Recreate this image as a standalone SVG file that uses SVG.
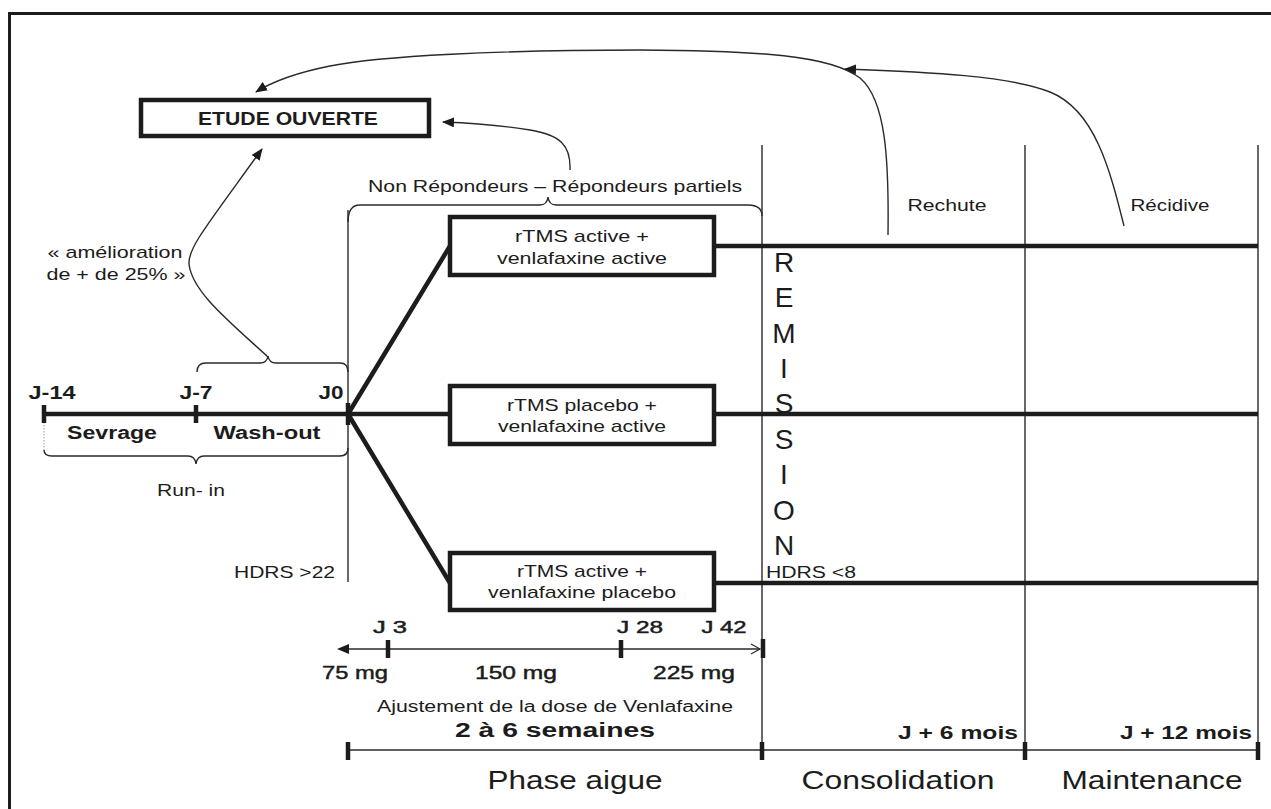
<svg xmlns="http://www.w3.org/2000/svg" width="1271" height="809" viewBox="0 0 1271 809">
<style>
text{font-family:"Liberation Sans",Arial,sans-serif;fill:#1c1c1c}
.b{font-weight:bold}
.m{stroke:#1c1c1c;stroke-width:0.45}
.thin{fill:none;stroke:#2a2a2a;stroke-width:1.4}
.thick{fill:none;stroke:#1c1c1c;stroke-width:4.5}
.box{fill:#fff;stroke:#1c1c1c;stroke-width:4.5}
.tick{stroke:#1c1c1c;stroke-width:4.5}
.arr{fill:none;stroke:#2a2a2a;stroke-width:1.4;marker-end:url(#ah)}
</style>
<defs>
<marker id="ah" markerWidth="12" markerHeight="10" refX="11" refY="5" orient="auto" markerUnits="userSpaceOnUse">
<path d="M0,0 L12,5 L0,10 Z" fill="#1c1c1c"/>
</marker>
</defs>
<rect width="1271" height="809" fill="#fff"/>
<path d="M9.5,809 V13.5 H1271" fill="none" stroke="#1c1c1c" stroke-width="3"/>

<g id="connectors">
<!-- grid verticals -->
<path class="thin" d="M762,145 V760 M1025,145 V760 M1258,145 V760"/>
<path class="thin" d="M348,210 V582"/>
<!-- braces -->
<path class="thin" d="M348,222 Q348,205 360,205 L540,205 Q547,205 548,197 Q549,205 556,205 L748,205 Q762,205 762,216"/>
<path class="thin" d="M197,372 Q197,363 206,363 L260,363 Q267,363 268,356 Q269,363 276,363 L340,363 Q348,363 348,372"/>
<path class="thin" d="M44,450 Q44,456 52,456 L188,456 Q195,456 196,464 Q197,456 204,456 L340,456 Q348,456 348,448"/>
<path d="M44,422 V450" stroke="#999" stroke-width="1" stroke-dasharray="1.5,1.5"/>
<!-- curved arrows -->
<path class="arr" d="M888,235 C889,160 886,100 860,78 C830,55 760,51 640,50 C500,50 380,56 330,66 C300,72 275,80 256,92"/>
<path class="arr" d="M1124,226 C1110,170 1095,110 1050,92 C1010,76 930,72 845,69"/>
<path class="arr" d="M570,170 C571,145 560,135 530,130 C500,125 470,123 443,122"/>
<path class="arr" d="M268,357 C230,322 192,292 189,264 C188,248 205,228 262,149"/>
<!-- main timeline -->
<path class="thick" d="M44,414 H348" stroke-width="4"/>
<path class="tick" d="M44,405 V423 M196,405 V423" stroke-width="3.5"/>
<path class="tick" d="M348,403 V425" stroke-width="5"/>
<!-- branches -->
<path class="thick" d="M348,414 L450,246 M348,414 H450 M348,414 L450,583"/>
<path class="thick" d="M714,246 H1258 M714,414 H1258 M714,583 H1258" stroke-width="4"/>
<!-- dose arrow -->
<path class="thin" d="M345,649 H760"/>
<path d="M337,649 L349,644 L349,654 Z" fill="#1c1c1c"/>
<path d="M751,644 L760,649 L751,654" fill="none" stroke="#2a2a2a" stroke-width="1.2"/>
<path class="tick" d="M388,640 V658 M621,640 V658 M763,639 V658" stroke-width="4"/>
<!-- phase line -->
<path class="thin" d="M348,750 H1258" stroke-width="1.6"/>
<path class="tick" d="M348,742 V760 M762,742 V760 M1025,742 V760 M1258,742 V760" stroke-width="4.5"/>
</g>

<g id="etude">
<rect class="box" x="141" y="100" width="288" height="36"/>
<text class="b" x="288" y="125" font-size="18" text-anchor="middle" textLength="180" lengthAdjust="spacingAndGlyphs">ETUDE OUVERTE</text>
</g>

<g id="box1">
<rect class="box" x="450" y="217" width="264" height="58"/>
<text x="582" y="242" font-size="17" text-anchor="middle" textLength="134" lengthAdjust="spacingAndGlyphs">rTMS active +</text>
<text x="582" y="264" font-size="17" text-anchor="middle" textLength="170" lengthAdjust="spacingAndGlyphs">venlafaxine active</text>
</g>
<g id="box2">
<rect class="box" x="450" y="386" width="264" height="58"/>
<text x="582" y="411" font-size="17" text-anchor="middle" textLength="150" lengthAdjust="spacingAndGlyphs">rTMS placebo +</text>
<text x="582" y="432" font-size="17" text-anchor="middle" textLength="168" lengthAdjust="spacingAndGlyphs">venlafaxine active</text>
</g>
<g id="box3">
<rect class="box" x="450" y="553" width="264" height="57"/>
<text x="582" y="577" font-size="17" text-anchor="middle" textLength="130" lengthAdjust="spacingAndGlyphs">rTMS active +</text>
<text x="582" y="598" font-size="17" text-anchor="middle" textLength="188" lengthAdjust="spacingAndGlyphs">venlafaxine placebo</text>
</g>

<g id="labels">
<text x="555" y="192" font-size="17" text-anchor="middle" textLength="374" lengthAdjust="spacingAndGlyphs">Non Répondeurs – Répondeurs partiels</text>
<text x="115" y="258" font-size="17" text-anchor="middle" textLength="135" lengthAdjust="spacingAndGlyphs">« amélioration</text>
<text x="116" y="280" font-size="17" text-anchor="middle" textLength="139" lengthAdjust="spacingAndGlyphs">de + de 25% »</text>
<text x="947" y="211" font-size="17" text-anchor="middle" textLength="79" lengthAdjust="spacingAndGlyphs">Rechute</text>
<text x="1170" y="211" font-size="17" text-anchor="middle" textLength="79" lengthAdjust="spacingAndGlyphs">Récidive</text>

<text class="b" x="52" y="399" font-size="18" text-anchor="middle" textLength="47" lengthAdjust="spacingAndGlyphs">J-14</text>
<text class="b" x="196" y="399" font-size="18" text-anchor="middle" textLength="33" lengthAdjust="spacingAndGlyphs">J-7</text>
<text class="b" x="331" y="399" font-size="18" text-anchor="middle" textLength="25" lengthAdjust="spacingAndGlyphs">J0</text>
<text class="b" x="112" y="439" font-size="18" text-anchor="middle" textLength="90" lengthAdjust="spacingAndGlyphs">Sevrage</text>
<text class="b" x="267" y="439" font-size="18" text-anchor="middle" textLength="107" lengthAdjust="spacingAndGlyphs">Wash-out</text>
<text x="191" y="496" font-size="17" text-anchor="middle" textLength="68" lengthAdjust="spacingAndGlyphs">Run- in</text>
<text x="335" y="578" font-size="17" text-anchor="end" textLength="101" lengthAdjust="spacingAndGlyphs">HDRS &gt;22</text>
<text x="766" y="578" font-size="16" textLength="90" lengthAdjust="spacingAndGlyphs">HDRS &lt;8</text>

<g font-size="28" text-anchor="middle">
<text x="784" y="272">R</text>
<text x="784" y="307">E</text>
<text x="784" y="343">M</text>
<text x="784" y="378">I</text>
<text x="784" y="413">S</text>
<text x="784" y="449">S</text>
<text x="784" y="484">I</text>
<text x="784" y="520">O</text>
<text x="784" y="555">N</text>
</g>

<text class="m" x="390" y="633" font-size="16" text-anchor="middle" textLength="34" lengthAdjust="spacingAndGlyphs">J 3</text>
<text class="m" x="640" y="633" font-size="16" text-anchor="middle" textLength="46" lengthAdjust="spacingAndGlyphs">J 28</text>
<text class="m" x="724" y="633" font-size="16" text-anchor="middle" textLength="45" lengthAdjust="spacingAndGlyphs">J 42</text>
<text class="m" x="355" y="679" font-size="18" text-anchor="middle" textLength="66" lengthAdjust="spacingAndGlyphs">75 mg</text>
<text class="m" x="516" y="679" font-size="18" text-anchor="middle" textLength="82" lengthAdjust="spacingAndGlyphs">150 mg</text>
<text class="m" x="694" y="679" font-size="18" text-anchor="middle" textLength="82" lengthAdjust="spacingAndGlyphs">225 mg</text>
<text x="555" y="712" font-size="16" text-anchor="middle" textLength="356" lengthAdjust="spacingAndGlyphs">Ajustement de la dose de Venlafaxine</text>
<text class="b" x="555" y="737" font-size="20" text-anchor="middle" textLength="200" lengthAdjust="spacingAndGlyphs">2 à 6 semaines</text>
<text class="b" x="1018" y="739" font-size="18" text-anchor="end" textLength="120" lengthAdjust="spacingAndGlyphs">J + 6 mois</text>
<text class="b" x="1252" y="739" font-size="18" text-anchor="end" textLength="132" lengthAdjust="spacingAndGlyphs">J + 12 mois</text>
<text x="575" y="789" font-size="25" text-anchor="middle" textLength="175" lengthAdjust="spacingAndGlyphs">Phase aigue</text>
<text x="898" y="789" font-size="25" text-anchor="middle" textLength="193" lengthAdjust="spacingAndGlyphs">Consolidation</text>
<text x="1152" y="789" font-size="25" text-anchor="middle" textLength="181" lengthAdjust="spacingAndGlyphs">Maintenance</text>
</g>
</svg>
